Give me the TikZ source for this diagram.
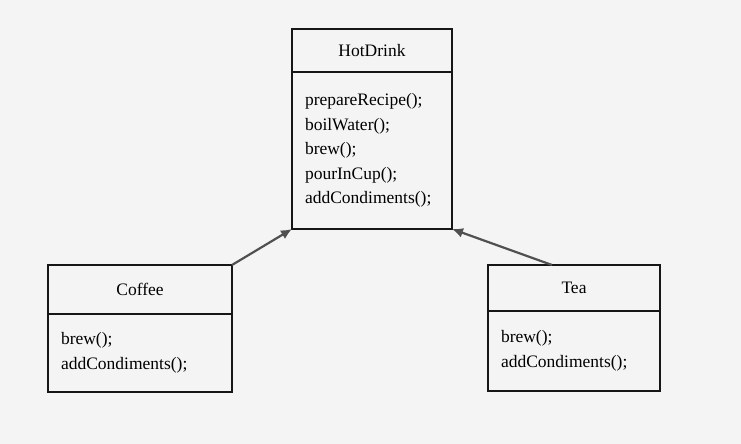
\documentclass[tikz,border=0pt]{standalone}
\usepackage{fontspec}
\setmainfont{Liberation Serif}
\definecolor{SlideGray}{HTML}{F4F4F4}
\definecolor{BoxLine}{HTML}{161616}
\definecolor{ArrowGray}{HTML}{505050}
\usetikzlibrary{arrows.meta,positioning,calc}

\tikzset{
  classtitle/.style={
    draw=BoxLine,
    line width=2.2pt,
    outer sep=0pt,
    inner sep=0pt,
    align=center,
    font=\fontsize{17.5}{24.5}\selectfont
  },
  classbody/.style={
    draw=BoxLine,
    line width=2.2pt,
    outer sep=0pt,
    inner xsep=13pt,
    inner ysep=0pt,
    align=left,
    font=\fontsize{17.5}{24.5}\selectfont
  },
  inherits/.style={
    draw=ArrowGray,
    line width=2.2pt,
    -{Latex[length=11pt,width=10pt]}
  }
}

\begin{document}
\begin{tikzpicture}[x=1pt,y=-1pt]
    \useasboundingbox[fill=SlideGray] (0,0) rectangle (741,444);

    \node[classtitle, minimum width=160pt, minimum height=43pt] (hotTitle) at (372,50.5) {HotDrink};
    \node[
      classbody,
      below=0pt of hotTitle,
      text width=134pt,
      minimum width=160pt,
      minimum height=157pt
    ] (hotBody) {%
      prepareRecipe();\\
      boilWater();\\
      brew();\\
      pourInCup();\\
      addCondiments();
    };

    \node[classtitle, minimum width=184pt, minimum height=49pt] (coffeeTitle) at (140,289.5) {Coffee};
    \node[
      classbody,
      below=0pt of coffeeTitle,
      text width=158pt,
      minimum width=184pt,
      minimum height=78pt
    ] (coffeeBody) {%
      brew();\\
      addCondiments();
    };

    \node[classtitle, minimum width=172pt, minimum height=46pt] (teaTitle) at (574,288) {Tea};
    \node[
      classbody,
      below=0pt of teaTitle,
      text width=146pt,
      minimum width=172pt,
      minimum height=80pt
    ] (teaBody) {%
      brew();\\
      addCondiments();
    };

    \draw[inherits] (coffeeTitle.north east) -- (hotBody.south west);
    \draw[inherits] ([xshift=-22pt]teaTitle.north) -- (hotBody.south east);
  \end{tikzpicture}
\end{document}
